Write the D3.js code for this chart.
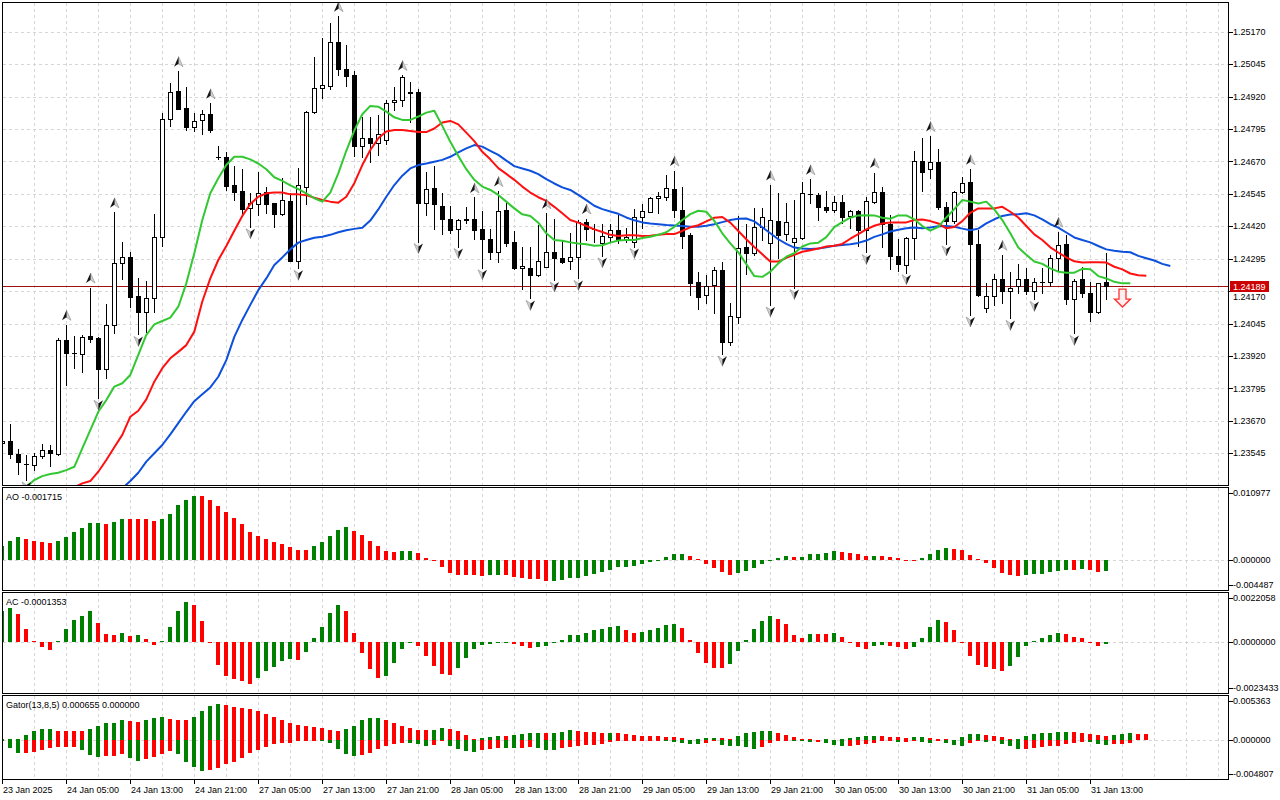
<!DOCTYPE html>
<html>
<head>
<meta charset="utf-8">
<script src="https://cdn.jsdelivr.net/npm/d3@7"></script>
<style>
  html, body { margin: 0; padding: 0; background: #ffffff; }
  svg { display: block; }
</style>
</head>
<body>
<svg id="chart"></svg>
<script>
// H1 bars, 23 Jan 21:00 .. 31 Jan 15:00
const opens = [
  1.23583, 1.23592, 1.23542, 1.23504, 1.23499, 1.23535, 1.23558, 1.23542, 1.23981, 1.23930,
  1.23926, 1.23997, 1.23990, 1.23869, 1.24040, 1.24277, 1.24300, 1.24151, 1.24091, 1.24142,
  1.24380, 1.24832, 1.24942, 1.24875, 1.24804, 1.24829, 1.24853, 1.24686, 1.24686, 1.24579,
  1.24556, 1.24489, 1.24506, 1.24554, 1.24508, 1.24466, 1.24517, 1.24288, 1.24573, 1.24860,
  1.24952, 1.24962, 1.25129, 1.25025, 1.25002, 1.24731, 1.24760, 1.24742, 1.24752, 1.24899,
  1.24906, 1.24939, 1.24936, 1.24508, 1.24566, 1.24499, 1.24450, 1.24408, 1.24443, 1.24450,
  1.24408, 1.24370, 1.24322, 1.24483, 1.24358, 1.24258, 1.24261, 1.24234, 1.24264, 1.24319,
  1.24299, 1.24287, 1.24300, 1.24437, 1.24408, 1.24354, 1.24380, 1.24405, 1.24367, 1.24358,
  1.24454, 1.24476, 1.24528, 1.24534, 1.24563, 1.24483, 1.24387, 1.24206, 1.24155, 1.24194,
  1.24251, 1.23975, 1.24072, 1.24339, 1.24316, 1.24418, 1.24354, 1.24441, 1.24389, 1.24358,
  1.24374, 1.24544, 1.24541, 1.24493, 1.24483, 1.24513, 1.24460, 1.24479, 1.24405, 1.24515,
  1.24551, 1.24429, 1.24306, 1.24271, 1.24374, 1.24671, 1.24640, 1.24666, 1.24495, 1.24441,
  1.24551, 1.24590, 1.24351, 1.24104, 1.24151, 1.24215, 1.24170, 1.24190, 1.24215, 1.24170,
  1.24206, 1.24206, 1.24296, 1.24351, 1.24138, 1.24215, 1.24161, 1.24088, 1.24206
];
const highs = [
  1.23599, 1.23657, 1.23562, 1.23538, 1.23545, 1.23581, 1.23577, 1.23988, 1.24040, 1.23997,
  1.24001, 1.24184, 1.23992, 1.24121, 1.24474, 1.24358, 1.24320, 1.24219, 1.24209, 1.24466,
  1.24856, 1.24973, 1.25018, 1.24955, 1.24856, 1.24868, 1.24894, 1.24729, 1.24707, 1.24652,
  1.24640, 1.24547, 1.24628, 1.24570, 1.24510, 1.24605, 1.24547, 1.24644, 1.24865, 1.25072,
  1.25147, 1.25205, 1.25230, 1.25119, 1.25020, 1.24840, 1.24840, 1.24849, 1.24907, 1.24955,
  1.25003, 1.24977, 1.24948, 1.24628, 1.24652, 1.24547, 1.24498, 1.24450, 1.24495, 1.24531,
  1.24480, 1.24408, 1.24556, 1.24518, 1.24403, 1.24342, 1.24342, 1.24425, 1.24470, 1.24450,
  1.24367, 1.24393, 1.24444, 1.24450, 1.24429, 1.24429, 1.24429, 1.24463, 1.24412, 1.24485,
  1.24506, 1.24534, 1.24554, 1.24618, 1.24635, 1.24573, 1.24393, 1.24245, 1.24232, 1.24264,
  1.24282, 1.24126, 1.24459, 1.24429, 1.24489, 1.24489, 1.24579, 1.24547, 1.24511, 1.24521,
  1.24592, 1.24601, 1.24547, 1.24557, 1.24537, 1.24541, 1.24483, 1.24483, 1.24531, 1.24627,
  1.24573, 1.24463, 1.24370, 1.24380, 1.24710, 1.24761, 1.24768, 1.24718, 1.24515, 1.24557,
  1.24611, 1.24640, 1.24405, 1.24202, 1.24236, 1.24310, 1.24242, 1.24274, 1.24260, 1.24222,
  1.24258, 1.24310, 1.24399, 1.24387, 1.24215, 1.24264, 1.24206, 1.24202, 1.24316
];
const lows = [
  1.23577, 1.23526, 1.23467, 1.23442, 1.23480, 1.23526, 1.23497, 1.23538, 1.23808, 1.23875,
  1.23860, 1.23975, 1.23757, 1.23837, 1.24010, 1.24215, 1.24108, 1.24003, 1.24014, 1.24091,
  1.24344, 1.24807, 1.24872, 1.24791, 1.24789, 1.24774, 1.24785, 1.24678, 1.24560, 1.24521,
  1.24472, 1.24418, 1.24463, 1.24472, 1.24418, 1.24463, 1.24286, 1.24258, 1.24506, 1.24856,
  1.24913, 1.24948, 1.25003, 1.24960, 1.24692, 1.24686, 1.24666, 1.24695, 1.24737, 1.24868,
  1.24884, 1.24821, 1.24361, 1.24463, 1.24408, 1.24390, 1.24396, 1.24342, 1.24434, 1.24370,
  1.24260, 1.24293, 1.24284, 1.24344, 1.24254, 1.24177, 1.24142, 1.24230, 1.24262, 1.24213,
  1.24277, 1.24254, 1.24219, 1.24367, 1.24361, 1.24306, 1.24361, 1.24354, 1.24358, 1.24342,
  1.24412, 1.24474, 1.24470, 1.24521, 1.24457, 1.24335, 1.24155, 1.24100, 1.24126, 1.24087,
  1.23927, 1.23962, 1.24046, 1.24238, 1.24310, 1.24367, 1.24117, 1.24296, 1.24367, 1.24184,
  1.24370, 1.24511, 1.24446, 1.24476, 1.24476, 1.24431, 1.24415, 1.24344, 1.24319, 1.24511,
  1.24342, 1.24254, 1.24249, 1.24241, 1.24293, 1.24556, 1.24607, 1.24485, 1.24352, 1.24434,
  1.24547, 1.24078, 1.24151, 1.24091, 1.24117, 1.24126, 1.24065, 1.24161, 1.24159, 1.24138,
  1.24164, 1.24190, 1.24249, 1.24119, 1.24007, 1.24148, 1.24056, 1.24087, 1.24138
];
const closes = [
  1.23591, 1.23541, 1.23513, 1.23503, 1.23535, 1.23558, 1.23545, 1.23981, 1.23930, 1.23931,
  1.23992, 1.23986, 1.23869, 1.24040, 1.24277, 1.24300, 1.24148, 1.24091, 1.24142, 1.24380,
  1.24832, 1.24939, 1.24873, 1.24804, 1.24827, 1.24852, 1.24791, 1.24687, 1.24577, 1.24554,
  1.24486, 1.24511, 1.24550, 1.24506, 1.24466, 1.24521, 1.24288, 1.24579, 1.24860, 1.24952,
  1.24963, 1.25129, 1.25025, 1.25000, 1.24731, 1.24760, 1.24742, 1.24774, 1.24897, 1.24907,
  1.24994, 1.24933, 1.24508, 1.24563, 1.24505, 1.24450, 1.24405, 1.24444, 1.24450, 1.24405,
  1.24370, 1.24322, 1.24479, 1.24354, 1.24258, 1.24267, 1.24232, 1.24287, 1.24320, 1.24296,
  1.24284, 1.24300, 1.24437, 1.24408, 1.24409, 1.24383, 1.24405, 1.24370, 1.24378, 1.24454,
  1.24479, 1.24528, 1.24537, 1.24566, 1.24483, 1.24384, 1.24202, 1.24148, 1.24191, 1.24251,
  1.23975, 1.24076, 1.24335, 1.24316, 1.24418, 1.24457, 1.24444, 1.24387, 1.24437, 1.24374,
  1.24547, 1.24545, 1.24493, 1.24483, 1.24513, 1.24457, 1.24479, 1.24405, 1.24517, 1.24554,
  1.24429, 1.24306, 1.24274, 1.24376, 1.24673, 1.24631, 1.24666, 1.24495, 1.24441, 1.24551,
  1.24588, 1.24351, 1.24155, 1.24151, 1.24215, 1.24170, 1.24184, 1.24215, 1.24170, 1.24206,
  1.24207, 1.24296, 1.24348, 1.24138, 1.24210, 1.24161, 1.24088, 1.24200, 1.24189
];

// Alligator, indexed by bar (lines run past the last bar by their shift)
const lips = [
  null, null, null,
  1.23414, 1.23442, 1.23457, 1.23465, 1.23470, 1.23480, 1.23493,
  1.23564, 1.23634, 1.23705, 1.23750, 1.23802, 1.23815, 1.23847, 1.23924, 1.24001, 1.24042,
  1.24055, 1.24068, 1.24110, 1.24200, 1.24316, 1.24444, 1.24547, 1.24605, 1.24656, 1.24688,
  1.24688, 1.24678, 1.24662, 1.24640, 1.24609, 1.24595, 1.24578, 1.24563, 1.24547, 1.24528,
  1.24515, 1.24550, 1.24624, 1.24711, 1.24789, 1.24852, 1.24884, 1.24881, 1.24862, 1.24840,
  1.24830, 1.24830, 1.24843, 1.24858, 1.24865, 1.24807, 1.24746, 1.24691, 1.24640, 1.24599,
  1.24573, 1.24560, 1.24541, 1.24515, 1.24489, 1.24466, 1.24460, 1.24434, 1.24393, 1.24367,
  1.24364, 1.24358, 1.24354, 1.24351, 1.24345, 1.24347, 1.24357, 1.24365, 1.24367, 1.24367,
  1.24375, 1.24380, 1.24387, 1.24397, 1.24418, 1.24444, 1.24467, 1.24480, 1.24476, 1.24441,
  1.24393, 1.24354, 1.24320, 1.24274, 1.24228, 1.24225, 1.24245, 1.24277, 1.24303, 1.24316,
  1.24342, 1.24354, 1.24357, 1.24378, 1.24417, 1.24436, 1.24453, 1.24462, 1.24463, 1.24462,
  1.24453, 1.24449, 1.24462, 1.24462, 1.24447, 1.24421, 1.24403, 1.24418, 1.24454, 1.24486,
  1.24521, 1.24515, 1.24508, 1.24515, 1.24485, 1.24444, 1.24393, 1.24338, 1.24310, 1.24284,
  1.24275, 1.24258, 1.24245, 1.24241, 1.24241, 1.24256, 1.24254, 1.24228, 1.24219, 1.24206,
  1.24200, 1.24200
];
const teeth = [
  null, null, null, null, null, null, null, null, null,
  1.23414,
  1.23429, 1.23438, 1.23474, 1.23519, 1.23568, 1.23616, 1.23686, 1.23709, 1.23753, 1.23821,
  1.23873, 1.23911, 1.23936, 1.23962, 1.24014, 1.24130, 1.24219, 1.24290, 1.24344, 1.24403,
  1.24460, 1.24506, 1.24534, 1.24547, 1.24550, 1.24550, 1.24543, 1.24543, 1.24540, 1.24530,
  1.24521, 1.24515, 1.24511, 1.24534, 1.24586, 1.24656, 1.24714, 1.24759, 1.24785, 1.24791,
  1.24791, 1.24787, 1.24783, 1.24783, 1.24797, 1.24820, 1.24826, 1.24813, 1.24781, 1.24748,
  1.24707, 1.24678, 1.24644, 1.24622, 1.24599, 1.24573, 1.24550, 1.24532, 1.24518, 1.24495,
  1.24470, 1.24444, 1.24434, 1.24421, 1.24408, 1.24398, 1.24387, 1.24383, 1.24385, 1.24385,
  1.24383, 1.24384, 1.24387, 1.24390, 1.24390, 1.24402, 1.24416, 1.24424, 1.24439, 1.24453,
  1.24456, 1.24434, 1.24402, 1.24370, 1.24340, 1.24312, 1.24284, 1.24284, 1.24298, 1.24310,
  1.24322, 1.24328, 1.24334, 1.24342, 1.24345, 1.24352, 1.24372, 1.24390, 1.24408, 1.24422,
  1.24431, 1.24435, 1.24435, 1.24435, 1.24444, 1.24446, 1.24440, 1.24431, 1.24412, 1.24417,
  1.24440, 1.24472, 1.24489, 1.24489, 1.24489, 1.24495, 1.24476, 1.24454, 1.24421, 1.24389,
  1.24367, 1.24339, 1.24319, 1.24300, 1.24285, 1.24280, 1.24281, 1.24281, 1.24280, 1.24264,
  1.24254, 1.24238, 1.24231, 1.24229
];
const jaw = [
  null, null, null, null, null, null, null, null, null, null, null, null, null, null, null,
  1.23410, 1.23438, 1.23470, 1.23513, 1.23545,
  1.23577, 1.23618, 1.23661, 1.23705, 1.23746, 1.23773, 1.23799, 1.23840, 1.23904, 1.23994,
  1.24059, 1.24117, 1.24174, 1.24219, 1.24271, 1.24300, 1.24331, 1.24357, 1.24367, 1.24376,
  1.24380, 1.24387, 1.24397, 1.24405, 1.24410, 1.24414, 1.24442, 1.24485, 1.24534, 1.24579,
  1.24615, 1.24643, 1.24656, 1.24662, 1.24669, 1.24676, 1.24688, 1.24705, 1.24720, 1.24733,
  1.24727, 1.24711, 1.24695, 1.24673, 1.24652, 1.24643, 1.24634, 1.24621, 1.24602, 1.24585,
  1.24570, 1.24560, 1.24541, 1.24521, 1.24499, 1.24486, 1.24477, 1.24468, 1.24454, 1.24443,
  1.24435, 1.24431, 1.24428, 1.24425, 1.24423, 1.24421, 1.24418, 1.24418, 1.24422, 1.24428,
  1.24436, 1.24444, 1.24449, 1.24450, 1.24439, 1.24416, 1.24393, 1.24370, 1.24352, 1.24338,
  1.24334, 1.24332, 1.24334, 1.24339, 1.24345, 1.24348, 1.24351, 1.24356, 1.24365, 1.24379,
  1.24389, 1.24400, 1.24407, 1.24412, 1.24415, 1.24412, 1.24415, 1.24420, 1.24421, 1.24418,
  1.24411, 1.24405, 1.24411, 1.24431, 1.24447, 1.24460, 1.24465, 1.24466, 1.24470, 1.24462,
  1.24447, 1.24428, 1.24415, 1.24396, 1.24377, 1.24367, 1.24358, 1.24344, 1.24331, 1.24326,
  1.24322, 1.24320, 1.24306, 1.24297, 1.24288, 1.24275, 1.24267
];

const upFractals = [8, 11, 14, 22, 26, 42, 50, 59, 62, 68, 73, 84, 96, 101, 109, 116, 121, 125, 132];
const downFractals = [3, 12, 17, 31, 37, 52, 57, 60, 66, 69, 72, 75, 79, 90, 96, 99, 108, 113, 118, 121, 126, 129, 134];
const sellSignal = {bar: 140, price: 1.24178};
const lastPrice = 1.24189;

const ao = [
  0.002217, 0.002990, 0.003505, 0.003299, 0.002990, 0.002835, 0.002681, 0.002990, 0.003609, 0.004382,
  0.005000, 0.005774, 0.005780, 0.005619, 0.005928, 0.006392, 0.006300, 0.006290, 0.006280, 0.006000,
  0.006392, 0.007165, 0.008454, 0.009331, 0.009949, 0.009900, 0.009331, 0.008351, 0.007475, 0.006547,
  0.005619, 0.004382, 0.003712, 0.003299, 0.002835, 0.002526, 0.002062, 0.001598, 0.001590, 0.002217,
  0.002835, 0.003763, 0.004691, 0.005155, 0.004536, 0.003918, 0.002990, 0.002165, 0.001443, 0.001289,
  0.001443, 0.001450, 0.001134, 0.000361, -0.000155, -0.001083, -0.001959, -0.002371, -0.002380, -0.002390,
  -0.002420, -0.002371, -0.002360, -0.002380, -0.002578, -0.002835, -0.002938, -0.002990, -0.003248, -0.003240,
  -0.003093, -0.002784, -0.002780, -0.002474, -0.002165, -0.001856, -0.001547, -0.001083, -0.001080, -0.000928,
  -0.000619, -0.000258, -0.000050, 0.000464, 0.000928, 0.000930, 0.000619, 0.000103, -0.000619, -0.001237,
  -0.001856, -0.002320, -0.002010, -0.001701, -0.001237, -0.000619, -0.000103, 0.000309, 0.000619, 0.000464,
  0.000470, 0.000928, 0.000930, 0.001083, 0.001392, 0.001237, 0.001083, 0.000928, 0.000619, 0.000625,
  0.000610, 0.000464, 0.000309, 0.000052, 0.000030, 0.000309, 0.000928, 0.001547, 0.001856, 0.001701,
  0.001547, 0.000773, 0.000155, -0.000464, -0.001237, -0.002010, -0.002320, -0.002474, -0.002320, -0.002165,
  -0.002160, -0.001856, -0.001701, -0.001547, -0.001550, -0.001392, -0.001547, -0.001856, -0.001715
];
const ac = [
  0.0014090, 0.0015470, 0.0012870, 0.0005970, 0.0000310, -0.0002760, -0.0004140, 0.0000150, 0.0005970, 0.0009960,
  0.0011800, 0.0014090, 0.0008730, 0.0003680, 0.0003060, 0.0004140, 0.0002760, 0.0003060, 0.0001230, -0.0001840,
  0.0000310, 0.0006740, 0.0014090, 0.0018230, 0.0017000, 0.0009500, -0.0000310, -0.0010720, -0.0015780, -0.0017460,
  -0.0018540, -0.0019920, -0.0017160, -0.0013790, -0.0011640, -0.0008890, -0.0007970, -0.0008430, -0.0005060, 0.0001690,
  0.0006740, 0.0013330, 0.0017000, 0.0014250, 0.0004140, -0.0005520, -0.0012870, -0.0017000, -0.0015780, -0.0010110,
  -0.0003680, -0.0000610, -0.0002300, -0.0006890, -0.0011180, -0.0014860, -0.0015630, -0.0012410, -0.0007510, -0.0003680,
  -0.0001690, -0.0001380, -0.0000770, -0.0000460, -0.0001230, -0.0002300, -0.0003220, -0.0002760, -0.0002140, -0.0000610,
  0.0000920, 0.0002910, 0.0002950, 0.0003830, 0.0005210, 0.0005670, 0.0006590, 0.0007050, 0.0005210, 0.0003830,
  0.0004290, 0.0005210, 0.0006130, 0.0007510, 0.0007970, 0.0006130, 0.0000610, -0.0005360, -0.0009960, -0.0012260,
  -0.0012300, -0.0010420, -0.0004440, 0.0000920, 0.0005670, 0.0009350, 0.0011640, 0.0010260, 0.0007970, 0.0002910,
  0.0001530, 0.0003370, 0.0003360, 0.0003350, 0.0003830, 0.0001990, -0.0000460, -0.0002600, -0.0003520, -0.0002140,
  -0.0001680, -0.0002140, -0.0002600, -0.0003520, -0.0002600, 0.0001530, 0.0006590, 0.0009800, 0.0008890, 0.0005210,
  -0.0000150, -0.0006740, -0.0010880, -0.0011800, -0.0012720, -0.0013630, -0.0011340, -0.0007200, -0.0002140, 0.0000460,
  0.0001530, 0.0002910, 0.0003830, 0.0003370, 0.0001990, 0.0001530, -0.0000150, -0.0002140, -0.0001353
];
const gatorUpper = [
  0.000040, 0.000081, 0.000120, 0.000605, 0.001089, 0.001332, 0.001340, 0.001130, 0.001120, 0.001110,
  0.001100, 0.001332, 0.001695, 0.002058, 0.002139, 0.002421, 0.002340, 0.002219, 0.002502, 0.002784,
  0.002905, 0.002623, 0.002502, 0.002421, 0.002905, 0.003632, 0.004237, 0.004479, 0.004400, 0.004090,
  0.004010, 0.003890, 0.003600, 0.003280, 0.002790, 0.002500, 0.002120, 0.001860, 0.001730, 0.001540,
  0.001410, 0.001280, 0.001140, 0.001290, 0.001760, 0.002420, 0.002720, 0.002740, 0.002510, 0.002120,
  0.001760, 0.001440, 0.001270, 0.001210, 0.001280, 0.001440, 0.001380, 0.001080, 0.000610, 0.000150,
  0.000200, 0.000330, 0.000510, 0.000510, 0.000530, 0.000700, 0.000840, 0.000890, 0.000840, 0.000900,
  0.001000, 0.001160, 0.001070, 0.001000, 0.000910, 0.000880, 0.000900, 0.000850, 0.000690, 0.000580,
  0.000520, 0.000470, 0.000410, 0.000350, 0.000330, 0.000190, 0.000020, 0.000060, 0.000170, 0.000250,
  0.000200, 0.000100, 0.000470, 0.000800, 0.000990, 0.001040, 0.001090, 0.000860, 0.000540, 0.000280,
  0.000120, 0.000040, 0.000005, 0.000030, 0.000005, 0.000040, 0.000210, 0.000340, 0.000430, 0.000435,
  0.000420, 0.000350, 0.000280, 0.000230, 0.000290, 0.000340, 0.000250, 0.000110, 0.000090, 0.000010,
  0.000290, 0.000670, 0.000780, 0.000580, 0.000420, 0.000350, 0.000110, 0.000120, 0.000490, 0.000730,
  0.000800, 0.000890, 0.000960, 0.000965, 0.000920, 0.000870, 0.000770, 0.000630, 0.000510, 0.000620,
  0.000680, 0.000820, 0.000750, 0.000655
];
const gatorLower = [
  -0.000200, -0.001009, -0.001695, -0.001690, -0.001493, -0.001291, -0.001009, -0.000928, -0.000920, -0.000910,
  -0.001332, -0.001937, -0.002139, -0.002058, -0.002017, -0.001816, -0.002300, -0.002663, -0.002421, -0.002139,
  -0.001816, -0.001400, -0.001816, -0.002824, -0.003430, -0.003955, -0.003753, -0.003510, -0.003100, -0.002850,
  -0.002280, -0.001720, -0.001280, -0.000930, -0.000590, -0.000450, -0.000350, -0.000200, -0.000070, -0.000020,
  -0.000060, -0.000350, -0.001130, -0.001770, -0.002030, -0.001960, -0.001700, -0.001220, -0.000770, -0.000490,
  -0.000390, -0.000430, -0.000600, -0.000750, -0.000680, -0.000130, -0.000800, -0.001220, -0.001410, -0.001490,
  -0.001340, -0.001180, -0.001030, -0.001070, -0.001100, -0.001070, -0.000900, -0.000980, -0.001250, -0.001280,
  -0.001060, -0.000860, -0.000800, -0.000700, -0.000630, -0.000510, -0.000300, -0.000180, -0.000180, -0.000175,
  -0.000080, -0.000040, -0.000005, -0.000070, -0.000280, -0.000420, -0.000510, -0.000560, -0.000370, -0.000120,
  -0.000630, -0.000800, -0.000820, -0.000960, -0.001120, -0.000870, -0.000390, -0.000070, -0.000050, -0.000060,
  -0.000200, -0.000260, -0.000230, -0.000360, -0.000720, -0.000840, -0.000810, -0.000720, -0.000550, -0.000400,
  -0.000220, -0.000140, -0.000270, -0.000270, -0.000030, -0.000250, -0.000370, -0.000130, -0.000420, -0.000690,
  -0.000810, -0.000430, -0.000190, -0.000260, -0.000040, -0.000510, -0.000830, -0.001160, -0.001110, -0.001050,
  -0.000920, -0.000810, -0.000740, -0.000590, -0.000440, -0.000240, -0.000270, -0.000530, -0.000610, -0.000580,
  -0.000540, -0.000380
];

const priceTicks = [1.25170, 1.25045, 1.24920, 1.24795, 1.24670, 1.24545, 1.24420, 1.24295,
                    1.24170, 1.24045, 1.23920, 1.23795, 1.23670, 1.23545];
const aoTicks = [0.010977, 0, -0.004487];
const acTicks = [0.0022058, 0, -0.0023433];
const gatorTicks = [0.005363, 0, -0.004807];
const timeLabels = ['23 Jan 2025', '24 Jan 05:00', '24 Jan 13:00', '24 Jan 21:00', '27 Jan 05:00',
                    '27 Jan 13:00', '27 Jan 21:00', '28 Jan 05:00', '28 Jan 13:00', '28 Jan 21:00',
                    '29 Jan 05:00', '29 Jan 13:00', '29 Jan 21:00', '30 Jan 05:00', '30 Jan 13:00',
                    '30 Jan 21:00', '31 Jan 05:00', '31 Jan 13:00'];

class TerminalChart {
    constructor (config) {
        this.config = {
            parent: config.parent,
            width: config.width || 1280,
            height: config.height || 800,
            left: 2.5,
            right: 1228.5,
            panes: config.panes
        };
        this.init();
    }

    init() {
        let self = this;
        const c = self.config;

        self.svg = d3.select(c.parent)
            .attr('width', c.width)
            .attr('height', c.height)
            .style('font-family', '"Liberation Sans", Arial, sans-serif')
            .style('font-size', '9px');

        // 8px per H1 bar
        self.xscale = d3.scaleLinear()
            .domain([0, 146])
            .range([2.3, 2.3 + 8 * 146]);

        self.yscale = {
            main: d3.scaleLinear().domain([1.23545, 1.25170]).range([453.3, 31.7]),
            ao: d3.scaleLinear().domain([aoTicks[2], aoTicks[0]]).range([589, 489]),
            ac: d3.scaleLinear().domain([acTicks[2], acTicks[0]]).range([692, 594]),
            gator: d3.scaleLinear().domain([gatorTicks[2], gatorTicks[0]]).range([778, 697])
        };

        const defs = self.svg.append('defs');
        Object.entries(c.panes).forEach(([key, p]) => {
            defs.append('clipPath')
                .attr('id', 'clip-' + key)
                .append('rect')
                .attr('x', c.left + 0.5)
                .attr('y', p.top + 0.5)
                .attr('width', c.right - c.left - 1)
                .attr('height', p.bottom - p.top - 1);
        });

        self.svg.append('rect')
            .attr('width', c.width)
            .attr('height', c.height)
            .attr('fill', '#ffffff');
    }

    px(i) {
        return Math.round(this.xscale(i));
    }

    grid(key, rows) {
        let self = this;
        const c = self.config;
        const p = c.panes[key];
        const g = self.svg.append('g')
            .attr('stroke', '#d6d6d6')
            .attr('stroke-dasharray', '3,3')
            .attr('shape-rendering', 'crispEdges');

        const cols = d3.range(4, 200, 4).filter(i => self.xscale(i) < c.right - 3);
        g.selectAll('line.v')
            .data(cols)
            .join('line')
            .attr('x1', i => self.px(i) + 0.5)
            .attr('x2', i => self.px(i) + 0.5)
            .attr('y1', p.top)
            .attr('y2', p.bottom);

        g.selectAll('line.h')
            .data(rows)
            .join('line')
            .attr('x1', c.left)
            .attr('x2', c.right)
            .attr('y1', v => Math.round(self.yscale[key](v)) + 0.5)
            .attr('y2', v => Math.round(self.yscale[key](v)) + 0.5);
    }

    border(key) {
        let self = this;
        const c = self.config;
        const p = c.panes[key];
        self.svg.append('rect')
            .attr('x', c.left)
            .attr('y', p.top)
            .attr('width', c.right - c.left)
            .attr('height', p.bottom - p.top)
            .attr('fill', 'none')
            .attr('stroke', '#000')
            .attr('shape-rendering', 'crispEdges');
    }

    axisLabels(key, ticks, fmt, skip) {
        let self = this;
        const c = self.config;
        const p = c.panes[key];
        const ys = self.yscale[key];
        const pos = v => Math.max(p.top + 5, Math.min(p.bottom - 6, ys(v)));
        const g = self.svg.append('g');
        g.selectAll('line')
            .data(ticks)
            .join('line')
            .attr('x1', c.right)
            .attr('x2', c.right + 4)
            .attr('y1', v => Math.round(pos(v)) + 0.5)
            .attr('y2', v => Math.round(pos(v)) + 0.5)
            .attr('stroke', '#000')
            .attr('shape-rendering', 'crispEdges');
        // labels hidden under the price tag are nudged below it
        g.selectAll('text')
            .data(ticks)
            .join('text')
            .attr('x', 1233)
            .attr('y', v => skip && skip(v) ? pos(v) + 6 : pos(v))
            .attr('dy', '0.35em')
            .attr('fill', '#000')
            .text(fmt);
    }

    histogram(key, values, rising) {
        let self = this;
        const ys = self.yscale[key];
        const y0 = Math.round(ys(0));
        self.svg.append('g')
            .attr('clip-path', `url(#clip-${key})`)
            .attr('shape-rendering', 'crispEdges')
            .selectAll('rect')
            .data(values)
            .join('rect')
            .attr('x', (v, i) => self.px(i) - 2)
            .attr('width', 4)
            .attr('y', v => Math.min(y0, Math.round(ys(v))))
            .attr('height', v => Math.max(1, Math.abs(Math.round(ys(v)) - y0)))
            .attr('fill', (v, i) => rising(v, i) ? '#008000' : '#ff0000');
    }

    renderMain() {
        let self = this;
        const c = self.config;
        const y = self.yscale.main;
        const ry = v => Math.round(y(v));

        self.grid('main', priceTicks);

        const plot = self.svg.append('g')
            .attr('clip-path', 'url(#clip-main)');

        // bid line
        plot.append('line')
            .attr('x1', c.left)
            .attr('x2', c.right)
            .attr('y1', ry(lastPrice) + 0.5)
            .attr('y2', ry(lastPrice) + 0.5)
            .attr('stroke', '#a01010')
            .attr('shape-rendering', 'crispEdges');

        const bars = d3.range(closes.length).map(i => ({
            i: i, o: opens[i], h: highs[i], l: lows[i], c: closes[i]
        }));

        const candles = plot.append('g')
            .attr('shape-rendering', 'crispEdges');

        candles.selectAll('line.wick')
            .data(bars)
            .join('line')
            .attr('class', 'wick')
            .attr('x1', d => self.px(d.i) + 0.5)
            .attr('x2', d => self.px(d.i) + 0.5)
            .attr('y1', d => ry(d.h))
            .attr('y2', d => ry(d.l) + 1)
            .attr('stroke', '#000');

        candles.selectAll('rect.body')
            .data(bars.filter(d => ry(Math.min(d.o, d.c)) - ry(Math.max(d.o, d.c)) >= 1))
            .join('rect')
            .attr('class', 'body')
            .attr('x', d => self.px(d.i) - 1.5)
            .attr('y', d => ry(Math.max(d.o, d.c)) + 0.5)
            .attr('width', 4)
            .attr('height', d => ry(Math.min(d.o, d.c)) - ry(Math.max(d.o, d.c)))
            .attr('fill', d => d.c >= d.o ? '#ffffff' : '#000000')
            .attr('stroke', '#000');

        candles.selectAll('line.doji')
            .data(bars.filter(d => ry(Math.min(d.o, d.c)) - ry(Math.max(d.o, d.c)) < 1))
            .join('line')
            .attr('class', 'doji')
            .attr('x1', d => self.px(d.i) - 2)
            .attr('x2', d => self.px(d.i) + 3)
            .attr('y1', d => ry(d.c) + 0.5)
            .attr('y2', d => ry(d.c) + 0.5)
            .attr('stroke', '#000');

        // alligator: jaw, teeth, lips
        const line = d3.line()
            .defined(v => v !== null)
            .x((v, i) => self.xscale(i))
            .y(v => y(v));
        [[jaw, '#0c50dc'], [teeth, '#ff1010'], [lips, '#32c832']].forEach(([series, colour]) => {
            plot.append('path')
                .datum(series)
                .attr('d', line)
                .attr('fill', 'none')
                .attr('stroke', colour)
                .attr('stroke-width', 2)
                .attr('stroke-linejoin', 'round');
        });

        // fractals
        const marks = plot.append('g');
        upFractals.forEach(i => {
            const cx = self.px(i) + 0.5, cy = y(highs[i]) - 9.5;
            marks.append('path')
                .attr('d', `M${cx},${cy - 5}L${cx + 4.5},${cy + 5}L${cx},${cy + 2}Z`)
                .attr('fill', '#d0d0d0').attr('stroke', '#8a8a8a').attr('stroke-width', 0.6);
            marks.append('path')
                .attr('d', `M${cx},${cy - 5}L${cx - 4.5},${cy + 5}L${cx},${cy + 2}Z`)
                .attr('fill', '#141414');
        });
        downFractals.forEach(i => {
            const cx = self.px(i) + 0.5, cy = y(lows[i]) + 7;
            marks.append('path')
                .attr('d', `M${cx},${cy + 5}L${cx - 4.5},${cy - 5}L${cx},${cy - 2}Z`)
                .attr('fill', '#d0d0d0').attr('stroke', '#8a8a8a').attr('stroke-width', 0.6);
            marks.append('path')
                .attr('d', `M${cx},${cy + 5}L${cx + 4.5},${cy - 5}L${cx},${cy - 2}Z`)
                .attr('fill', '#141414');
        });

        // sell signal arrow
        const sx = self.px(sellSignal.bar) + 0.5, sy = y(sellSignal.price);
        plot.append('path')
            .attr('d', `M${sx - 3.5},${sy}h7v10h4.5l-8,8l-8,-8h4.5Z`)
            .attr('fill', '#fff0f0')
            .attr('stroke', '#ff3030')
            .attr('stroke-width', 1.3)
            .attr('stroke-linejoin', 'miter');

        self.border('main');
        const py = ry(lastPrice);
        self.axisLabels('main', priceTicks, v => v.toFixed(5),
            v => Math.abs(y(v) - py) < 7);

        // current price tag
        self.svg.append('rect')
            .attr('x', c.right + 1.5)
            .attr('y', py - 5)
            .attr('width', 39)
            .attr('height', 11)
            .attr('fill', '#cc0000');
        self.svg.append('text')
            .attr('x', 1233)
            .attr('y', py + 0.5)
            .attr('dy', '0.35em')
            .attr('fill', '#ffffff')
            .text(lastPrice.toFixed(5));
    }

    renderIndicators() {
        let self = this;
        const c = self.config;

        const title = (key, txt) => {
            self.svg.append('text')
                .attr('x', 6)
                .attr('y', c.panes[key].top + 12.5)
                .attr('fill', '#000')
                .text(txt);
        };

        self.grid('ao', [0]);
        self.histogram('ao', ao, (v, i) => i === 0 || v > ao[i - 1]);
        self.border('ao');
        self.axisLabels('ao', aoTicks, v => v.toFixed(6));
        title('ao', 'AO ' + ao[ao.length - 1].toFixed(6));

        self.grid('ac', [0]);
        self.histogram('ac', ac, (v, i) => i === 0 || v > ac[i - 1]);
        self.border('ac');
        self.axisLabels('ac', acTicks, v => v.toFixed(7));
        title('ac', 'AC ' + ac[ac.length - 1].toFixed(7));

        self.grid('gator', [0]);
        self.histogram('gator', gatorUpper, (v, i) => i === 0 || v > gatorUpper[i - 1]);
        self.histogram('gator', gatorLower, (v, i) => i === 0 || v < gatorLower[i - 1]);
        self.border('gator');
        self.axisLabels('gator', gatorTicks, v => v.toFixed(6));
        const last = gatorUpper.length - 1;
        title('gator', 'Gator(13,8,5) ' + gatorUpper[last].toFixed(6) + ' ' +
            Math.abs(gatorLower[last] || 0).toFixed(6));
    }

    renderTime() {
        let self = this;
        const bottom = self.config.panes.gator.bottom;
        const g = self.svg.append('g');
        g.selectAll('line')
            .data(timeLabels)
            .join('line')
            .attr('x1', (d, i) => self.px(i * 8) + 0.5)
            .attr('x2', (d, i) => self.px(i * 8) + 0.5)
            .attr('y1', bottom)
            .attr('y2', bottom + 4)
            .attr('stroke', '#000')
            .attr('shape-rendering', 'crispEdges');
        g.selectAll('text')
            .data(timeLabels)
            .join('text')
            .attr('x', (d, i) => self.px(i * 8) + 1)
            .attr('y', 792.5)
            .attr('fill', '#000')
            .text(d => d);
    }

    render() {
        let self = this;
        self.renderMain();
        self.renderIndicators();
        self.renderTime();
    }
}

const chart = new TerminalChart({
    parent: '#chart',
    width: 1280,
    height: 800,
    panes: {
        main: {top: 2.5, bottom: 485.5},
        ao: {top: 487.5, bottom: 590.5},
        ac: {top: 592.5, bottom: 693.5},
        gator: {top: 695.5, bottom: 779.5}
    }
});
chart.render();
</script>
</body>
</html>
